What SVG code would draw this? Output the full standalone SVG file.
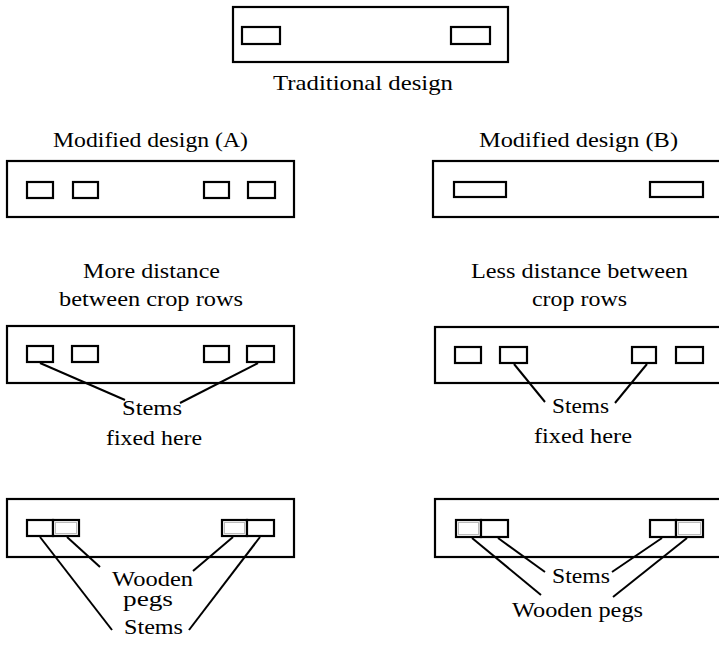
<svg xmlns="http://www.w3.org/2000/svg" width="719" height="645" viewBox="0 0 719 645">
<style>
.board{fill:#fff;stroke:#000;stroke-width:2.2}
.slot{fill:#fff;stroke:#000;stroke-width:2.2}
.peg{fill:#fff;stroke:#000;stroke-width:2.2}
.pegin{fill:none;stroke:#777;stroke-width:1;stroke-dasharray:1 1}
.lbl{font-family:"Liberation Serif","Times New Roman",serif;font-size:21px;fill:#000;text-anchor:middle}
.sm{font-size:20px}
.con line{stroke:#000;stroke-width:2}
</style>
<rect width="719" height="645" fill="#fff"/>
<g id="traditional">
<rect class="board" x="233" y="7" width="275" height="55"/>
<rect class="slot" x="242" y="27" width="38" height="17"/>
<rect class="slot" x="451" y="27" width="39" height="17"/>
<text class="lbl" x="363" y="90" textLength="180" lengthAdjust="spacingAndGlyphs">Traditional design</text>
</g>
<g id="modifiedA">
<text class="lbl" x="150.5" y="147" textLength="195" lengthAdjust="spacingAndGlyphs">Modified design (A)</text>
<rect class="board" x="7" y="161" width="287" height="56"/>
<rect class="slot" x="27" y="182" width="26" height="16"/>
<rect class="slot" x="73" y="182" width="25" height="16"/>
<rect class="slot" x="204" y="182" width="25" height="16"/>
<rect class="slot" x="248" y="182" width="27" height="16"/>
</g>
<g id="modifiedB">
<text class="lbl" x="578.5" y="147" textLength="199" lengthAdjust="spacingAndGlyphs">Modified design (B)</text>
<rect class="board" x="433" y="161" width="300" height="56"/>
<rect class="slot" x="454" y="182" width="52" height="15"/>
<rect class="slot" x="650" y="182" width="53" height="15"/>
</g>
<g id="moreDistance">
<text class="lbl" x="151.5" y="278" textLength="137" lengthAdjust="spacingAndGlyphs">More distance</text>
<text class="lbl" x="151" y="306" textLength="184" lengthAdjust="spacingAndGlyphs">between crop rows</text>
<rect class="board" x="7" y="326" width="287" height="57"/>
<rect class="slot" x="27" y="346" width="26" height="16"/>
<rect class="slot" x="72" y="346" width="26" height="16"/>
<rect class="slot" x="204" y="346" width="25" height="16"/>
<rect class="slot" x="247" y="346" width="27" height="16"/>
<text class="lbl" x="152" y="415" textLength="60" lengthAdjust="spacingAndGlyphs">Stems</text>
<text class="lbl" x="154" y="445" textLength="96" lengthAdjust="spacingAndGlyphs">fixed here</text>
</g>
<g id="lessDistance">
<text class="lbl" x="579.5" y="278" textLength="217" lengthAdjust="spacingAndGlyphs">Less distance between</text>
<text class="lbl" x="579.5" y="306" textLength="95" lengthAdjust="spacingAndGlyphs">crop rows</text>
<rect class="board" x="435" y="327" width="300" height="56"/>
<rect class="slot" x="455" y="347" width="26" height="16"/>
<rect class="slot" x="500" y="347" width="27" height="16"/>
<rect class="slot" x="632" y="347" width="24" height="16"/>
<rect class="slot" x="676" y="347" width="27" height="16"/>
<text class="lbl" x="580.5" y="413" textLength="57" lengthAdjust="spacingAndGlyphs">Stems</text>
<text class="lbl" x="583" y="443" textLength="98" lengthAdjust="spacingAndGlyphs">fixed here</text>
</g>
<g id="pegsA">
<rect class="board" x="7" y="499" width="287" height="58"/>
<rect class="slot" x="27" y="520" width="26" height="16"/>
<rect class="peg" x="53" y="520" width="26" height="16"/>
<rect class="pegin" x="55.5" y="522.5" width="21" height="11"/>
<rect class="peg" x="222" y="520" width="25" height="16"/>
<rect class="pegin" x="224.5" y="522.5" width="20" height="11"/>
<rect class="slot" x="247" y="520" width="27" height="16"/>
<text class="lbl sm" x="152.5" y="586" textLength="81" lengthAdjust="spacingAndGlyphs">Wooden</text>
<text class="lbl sm" x="148" y="606" textLength="50" lengthAdjust="spacingAndGlyphs">pegs</text>
<text class="lbl" x="153.5" y="634" textLength="59" lengthAdjust="spacingAndGlyphs">Stems</text>
</g>
<g id="pegsB">
<rect class="board" x="435" y="499" width="300" height="58"/>
<rect class="peg" x="456" y="520" width="25" height="17"/>
<rect class="pegin" x="458.5" y="522.5" width="20" height="12"/>
<rect class="slot" x="481" y="520" width="27" height="17"/>
<rect class="slot" x="650" y="520" width="26" height="17"/>
<rect class="peg" x="676" y="520" width="27" height="17"/>
<rect class="pegin" x="678.5" y="522.5" width="22" height="12"/>
<text class="lbl" x="581" y="583" textLength="58" lengthAdjust="spacingAndGlyphs">Stems</text>
<text class="lbl" x="577.5" y="617" textLength="131" lengthAdjust="spacingAndGlyphs">Wooden pegs</text>
</g>
<g id="connectors" class="con">
<line x1="40" y1="363" x2="125" y2="400"/>
<line x1="258" y1="363" x2="180" y2="403"/>
<line x1="514" y1="364" x2="545" y2="402"/>
<line x1="647" y1="364" x2="615" y2="403"/>
<line x1="40" y1="537" x2="112" y2="630"/>
<line x1="67" y1="537" x2="100" y2="567"/>
<line x1="233" y1="537" x2="193" y2="571"/>
<line x1="260" y1="537" x2="189" y2="630"/>
<line x1="472" y1="538" x2="541" y2="595"/>
<line x1="498" y1="538" x2="545" y2="572"/>
<line x1="662" y1="538" x2="612" y2="572"/>
<line x1="687" y1="538" x2="613" y2="597"/>
</g>
</svg>
